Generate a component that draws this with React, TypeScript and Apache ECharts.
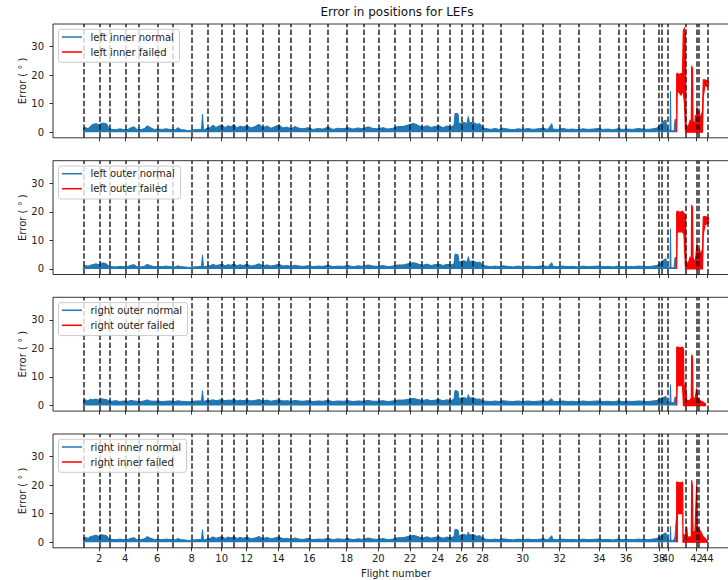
import React, { useEffect, useRef } from "react";
import * as echarts from "echarts";

// x unit: sample index (scaled), y unit: degrees of error
const flightStarts = [
  30.3, 46.3, 56.3, 72.3, 85.3, 104.3, 119.7, 138.7, 154.3, 168.7,
  181, 193.7, 209.3, 225.3, 237.7, 256.3, 274.3, 293.7, 310.3, 325.3,
  341.5, 357, 368.7, 384.7, 397, 408.7, 419.7, 429.5, 447.7, 469.7,
  489.5, 506.5, 526.2, 546.3, 565.5, 573, 590.3, 606, 608.5, 615,
  633, 643.5, 645.5, 654.3,
];

const blueX = [
  30.3, 30.5, 33, 35, 37, 40, 43, 46, 48, 51,
  54, 56, 59, 63, 67, 71, 75, 78, 81, 84,
  88, 92, 94, 97, 101, 105, 109, 113, 117, 122,
  125, 128, 132, 136, 140, 144, 148.5, 149.5, 150.5, 153,
  157, 160, 163, 166, 169, 172, 175, 178, 181, 184,
  187, 190, 194, 198, 202, 206, 210, 214, 218, 222,
  226, 230, 234, 238, 242, 246, 250, 255, 260, 265,
  270, 275, 280, 285, 290, 295, 300, 305, 310, 315,
  320, 325, 330, 335, 340, 345, 350, 355, 360, 363,
  366, 370, 374, 378, 382, 386, 390, 394, 398, 401,
  402, 405, 406, 408, 411, 414, 415.3, 416.5, 420, 424,
  427, 430, 434, 438, 442, 446, 450, 455, 460, 465,
  470, 475, 480, 485, 490, 495, 498.7, 500, 505, 510,
  515, 520, 525, 530, 535, 540, 545, 550, 555, 560,
  565, 570, 575, 580, 585, 590, 595, 600, 604, 607,
  610, 613, 614, 617, 617.5, 618, 621, 622, 623.7, 625,
];

const leftInnerNormal = [
  0, 1.5, 1.6, 1.2, 2.0, 2.8, 3.0, 2.6, 3.1, 3.2,
  2.8, 1.2, 1.0, 0.9, 1.2, 0.9, 1.0, 1.6, 1.9, 1.0,
  0.9, 1.4, 2.3, 1.7, 1.0, 1.1, 1.0, 1.2, 1.0, 0.8,
  1.6, 0.9, 0.8, 0.5, 0.8, 1.0, 1.0, 6.3, 0.8, 1.2,
  1.6, 2.5, 1.7, 2.2, 2.6, 1.6, 2.3, 1.9, 2.7, 1.5,
  2.2, 1.8, 2.4, 1.5, 2.0, 2.8, 1.6, 2.2, 1.4, 2.0,
  2.5, 1.5, 1.8, 1.2, 2.0, 1.4, 1.2, 1.6, 1.0, 1.3,
  1.1, 1.8, 1.0, 1.4, 1.2, 1.6, 1.1, 1.5, 1.2, 1.9,
  1.3, 1.2, 1.6, 1.1, 1.4, 2.0, 2.0, 2.5, 3.1, 2.8,
  2.2, 1.8, 2.3, 1.7, 2.0, 2.3, 1.6, 2.2, 1.9, 2.4,
  6.6, 6.5, 3.0, 3.2, 3.5, 3.0, 5.5, 3.3, 3.5, 2.8,
  3.0, 1.5, 1.2, 1.0, 1.3, 1.0, 1.4, 1.1, 0.9, 1.2,
  1.0, 1.3, 1.0, 1.2, 1.4, 1.0, 3.0, 1.1, 1.0, 1.3,
  1.0, 1.1, 0.9, 1.2, 1.0, 1.1, 1.3, 1.0, 1.1, 0.9,
  1.2, 1.0, 1.1, 1.0, 1.3, 1.1, 1.0, 1.2, 1.5, 2.5,
  3.8, 4.3, 1.0, 0.5, 14.2, 0.5, 0.5, 4.5, 4.5, null,
];

const leftOuterNormal = [
  0, 1.0, 1.2, 0.9, 1.3, 1.5, 1.8, 1.4, 2.0, 2.1,
  1.6, 0.9, 0.8, 0.7, 0.9, 0.8, 0.9, 1.3, 1.5, 0.8,
  0.7, 1.0, 1.6, 1.2, 0.8, 0.9, 0.8, 1.0, 0.8, 0.7,
  1.1, 0.8, 0.7, 0.5, 0.7, 0.8, 0.9, 4.9, 0.7, 0.9,
  1.1, 1.6, 1.2, 1.4, 1.7, 1.1, 1.5, 1.3, 1.8, 1.1,
  1.5, 1.2, 1.6, 1.0, 1.3, 1.8, 1.1, 1.4, 1.0, 1.3,
  1.6, 1.0, 1.2, 0.9, 1.3, 1.0, 0.9, 1.1, 0.8, 1.0,
  0.9, 1.3, 0.8, 1.0, 0.9, 1.2, 0.8, 1.1, 0.9, 1.4,
  1.0, 0.9, 1.2, 0.8, 1.0, 1.4, 1.4, 1.8, 2.2, 2.0,
  1.6, 1.3, 1.7, 1.2, 1.5, 1.7, 1.2, 1.6, 1.4, 1.8,
  5.2, 5.0, 2.4, 2.6, 2.9, 2.4, 4.3, 2.6, 2.8, 2.2,
  2.4, 1.2, 1.0, 0.8, 1.0, 0.8, 1.1, 0.9, 0.7, 1.0,
  0.8, 1.0, 0.8, 0.9, 1.1, 0.8, 2.2, 0.9, 0.8, 1.0,
  0.8, 0.9, 0.7, 1.0, 0.8, 0.9, 1.0, 0.8, 0.9, 0.7,
  1.0, 0.8, 0.9, 0.8, 1.0, 0.9, 0.8, 1.0, 1.2, 2.0,
  3.0, 3.6, 0.8, 0.4, 14.0, 0.4, 0.4, 4.0, 4.0, null,
];

const rightOuterNormal = [
  0, 1.8, 2.0, 1.6, 2.2, 2.0, 2.3, 1.9, 2.4, 2.2,
  2.0, 1.6, 1.5, 1.7, 1.4, 1.6, 1.5, 1.8, 1.6, 1.5,
  1.4, 1.7, 2.0, 1.6, 1.5, 1.6, 1.4, 1.5, 1.6, 1.4,
  1.7, 1.5, 1.4, 1.3, 1.5, 1.6, 1.6, 5.2, 1.4, 1.7,
  1.8, 2.0, 1.7, 1.9, 2.1, 1.7, 1.9, 1.8, 2.2, 1.6,
  1.9, 1.7, 2.0, 1.6, 1.8, 2.1, 1.6, 1.9, 1.5, 1.8,
  2.0, 1.6, 1.7, 1.5, 1.8, 1.6, 1.5, 1.7, 1.4, 1.6,
  1.5, 1.8, 1.4, 1.6, 1.5, 1.7, 1.4, 1.6, 1.5, 1.8,
  1.5, 1.5, 1.7, 1.4, 1.6, 1.9, 1.9, 2.1, 2.5, 2.3,
  2.0, 1.8, 2.1, 1.7, 1.9, 2.1, 1.7, 2.0, 1.8, 2.2,
  5.3, 5.0, 2.4, 2.6, 2.8, 2.4, 3.8, 2.6, 2.7, 2.2,
  2.3, 1.6, 1.5, 1.4, 1.6, 1.4, 1.7, 1.5, 1.4, 1.6,
  1.4, 1.6, 1.4, 1.5, 1.7, 1.4, 2.4, 1.5, 1.4, 1.6,
  1.4, 1.5, 1.3, 1.6, 1.4, 1.5, 1.6, 1.4, 1.5, 1.3,
  1.6, 1.4, 1.5, 1.4, 1.6, 1.5, 1.4, 1.6, 1.8, 2.4,
  2.8, 3.2, 1.4, 1.0, 7.3, 1.0, 1.0, 3.0, 3.0, null,
];

const rightInnerNormal = [
  0, 1.5, 1.7, 1.3, 1.9, 2.2, 2.5, 2.0, 2.6, 2.5,
  2.2, 1.1, 1.0, 0.9, 1.1, 0.9, 1.0, 1.4, 1.6, 0.9,
  0.9, 1.3, 2.0, 1.5, 1.0, 1.0, 0.9, 1.1, 1.0, 0.8,
  1.3, 0.9, 0.8, 0.6, 0.8, 0.9, 1.0, 4.4, 0.8, 1.0,
  1.3, 1.9, 1.4, 1.7, 2.0, 1.3, 1.8, 1.5, 2.0, 1.3,
  1.7, 1.4, 1.8, 1.2, 1.5, 2.0, 1.3, 1.7, 1.2, 1.5,
  1.9, 1.2, 1.4, 1.0, 1.5, 1.1, 1.0, 1.3, 0.9, 1.1,
  1.0, 1.4, 0.9, 1.2, 1.0, 1.3, 0.9, 1.2, 1.0, 1.5,
  1.1, 1.0, 1.3, 0.9, 1.1, 1.6, 1.6, 2.0, 2.4, 2.2,
  1.8, 1.5, 1.9, 1.4, 1.7, 1.9, 1.4, 1.8, 1.6, 2.0,
  4.5, 4.3, 2.2, 2.5, 2.8, 2.3, 3.6, 2.5, 2.7, 2.1,
  2.3, 1.3, 1.0, 0.9, 1.1, 0.9, 1.2, 1.0, 0.8, 1.1,
  0.9, 1.1, 0.9, 1.0, 1.2, 0.9, 2.3, 1.0, 0.9, 1.1,
  0.9, 1.0, 0.8, 1.1, 0.9, 1.0, 1.1, 0.9, 1.0, 0.8,
  1.1, 0.9, 1.0, 0.9, 1.1, 1.0, 0.9, 1.1, 1.3, 2.0,
  2.8, 3.3, 0.9, 0.5, 5.5, 0.5, 0.8, 2.0, 10.0, 10.0,
];

// failed segments: [x, lower envelope, upper envelope]
const leftInnerFailed = [
  [623.7, 0, 20.4], [624.2, 14, 20.6], [626, 14, 20.2], [628, 13, 20.6],
  [629.5, 14, 20.0], [630.3, 14, 35.6], [631.5, 10, 36.3], [632.5, 0, 33.5],
  [633, 0, 3], [635, 0, 1.5], [637, 0, 4], [638.3, 0, 3], [638.7, 0, 22.9],
  [639.5, 0, 22.5], [640, 0, 4], [641.5, 0, 2], [642.5, 0, 6], [643, 0, 2.5],
  [644, 0, 9], [645, 0, 3], [646, 0, 7.5], [647, 0, 4], [648, 0, 6],
  [649.5, 0, 7.2], [650.3, 12.5, 18.3], [652, 16.5, 18.3], [654, 16, 18],
  [655.3, 16.5, 17.7],
];
const leftOuterFailed = [
  [623.7, 0, 19.9], [624.2, 13, 20.2], [627, 13, 19.8], [629.5, 13, 20.2],
  [631, 12, 19.5], [632.5, 0, 18.8], [633, 0, 3], [635, 0, 1.5], [637, 0, 4],
  [638.3, 0, 3], [638.7, 0, 22.4], [639.5, 0, 21.5], [640, 0, 4], [642, 0, 2],
  [643, 0, 5], [644, 0, 9], [645, 0, 3], [646, 0, 7], [648, 0, 5],
  [649.5, 0, 7], [650.3, 12, 18.2], [652, 15.5, 18.4], [655.3, 16, 17.8],
];
const rightOuterFailed = [
  [623.7, 0, 20.3], [624.2, 7, 20.5], [627, 7, 20.2], [629.5, 7, 20.4],
  [630.5, 0, 19.8], [631, 0, 2], [632.5, 0, 8], [633.5, 0, 2], [636, 0, 1.5],
  [638.3, 0, 2.5], [638.7, 0, 17.8], [639.5, 0, 17], [640, 0, 3], [642, 0, 2],
  [643.7, 0, 6], [644.5, 0, 3], [646, 0, 2], [648, 0, 1.5], [650, 0, 1.2],
  [652.5, 0, 0.5],
];
const rightInnerFailed = [
  [623.7, 0, 21.1], [624.2, 10, 21.1], [627, 10, 20.8], [629.7, 10, 21],
  [630, 0, 3], [632, 0, 2], [633.7, 0, 5.4], [634.5, 0, 2], [636, 0, 1.7],
  [638.3, 0, 2], [638.7, 0, 21.7], [639.3, 0, 20], [640, 0, 3], [642, 0, 4],
  [643.7, 0, 20.3], [644.3, 0, 5.4], [646, 0, 4.5], [648, 0, 3.6], [650, 0, 2],
  [654.3, 0, 0.5],
];

const panelNames = ["left inner", "left outer", "right outer", "right inner"];
const normalSeries = [leftInnerNormal, leftOuterNormal, rightOuterNormal, rightInnerNormal];
const failedSeries = [leftInnerFailed, leftOuterFailed, rightOuterFailed, rightInnerFailed];
const yTicks = [0, 10, 20, 30];

const TITLE = "Error in positions for LEFs";
const X_LABEL = "Flight number";
const Y_LABEL = "Error ( ° )";

const BLUE = "#1f77b4";
const RED = "#ff0000";
const FONT = "DejaVu Sans";
const X_MAX = 688;
const Y_MIN = -1.95;
const Y_MAX = 37.9;
const GRID_LEFT = 53;
const GRID_W = 688;
const GRID_TOPS = [24, 160.7, 297.3, 434];
const GRID_H = 113.8;
const LEGEND_W = [121, 122, 129, 128];

export default function App() {
  const ref = useRef<HTMLDivElement>(null);

  useEffect(() => {
    if (!ref.current) return;
    const chart = echarts.init(ref.current, undefined, { renderer: "svg" });
    const evenTicks = flightStarts.filter((_, k) => (k + 1) % 2 === 0);
    // an empty trailing label at the axis end keeps ECharts from dropping "42"/"44"
    const labelValues = evenTicks.concat([X_MAX]);

    const grids = GRID_TOPS.map((top) => ({
      left: GRID_LEFT,
      width: GRID_W,
      top,
      height: GRID_H,
      outerBoundsMode: "none",
      containLabel: false,
      show: true,
      borderColor: "#000",
      borderWidth: 0.8,
      backgroundColor: "transparent",
    }));

    const xAxes = GRID_TOPS.map((_, i) => ({
      type: "value",
      gridIndex: i,
      min: 0,
      max: X_MAX,
      splitLine: { show: false },
      axisLine: { show: false, onZero: false },
      axisTick: {
        show: true,
        customValues: evenTicks,
        length: 3.5,
        lineStyle: { color: "#000", width: 0.8 },
      },
      axisLabel: {
        show: i === 3,
        customValues: labelValues,
        fontSize: 10,
        color: "#222",
        fontFamily: FONT,
        margin: 6,
        hideOverlap: false,
        formatter: (v: number) => {
          if (v >= X_MAX) return "";
          let best = 0;
          for (let k = 0; k < flightStarts.length; k++) {
            if (Math.abs(flightStarts[k] - v) < Math.abs(flightStarts[best] - v)) best = k;
          }
          return String(best + 1);
        },
      },
    }));

    const yAxes = GRID_TOPS.map((_, i) => ({
      type: "value",
      gridIndex: i,
      min: Y_MIN,
      max: Y_MAX,
      name: Y_LABEL,
      nameLocation: "middle",
      nameGap: 26,
      nameMoveOverlap: false,
      nameTextStyle: { fontSize: 10, color: "#222", fontFamily: FONT },
      splitLine: { show: false },
      axisLine: { show: false, onZero: false },
      axisTick: {
        show: true,
        customValues: yTicks,
        length: 3.5,
        lineStyle: { color: "#000", width: 0.8 },
      },
      axisLabel: {
        customValues: yTicks,
        fontSize: 10,
        color: "#222",
        fontFamily: FONT,
        margin: 9,
        showMinLabel: true,
        showMaxLabel: true,
      },
    }));

    const series: any[] = [];
    GRID_TOPS.forEach((_, i) => {
      const vals = normalSeries[i];
      const failed = failedSeries[i];
      series.push({
        type: "line",
        name: panelNames[i] + " normal",
        xAxisIndex: i,
        yAxisIndex: i,
        data: blueX.map((x, k) => [x, vals[k] === undefined ? null : vals[k]]),
        showSymbol: false,
        symbol: "none",
        connectNulls: false,
        lineStyle: { color: BLUE, width: 1 },
        areaStyle: { color: BLUE, opacity: 1 },
        z: 2,
        markLine: {
          silent: true,
          symbol: ["none", "none"],
          label: { show: false },
          lineStyle: { color: "#111", type: [5.5, 2.4], width: 1.5, opacity: 0.9 },
          data: flightStarts.map((x) => ({ xAxis: x })),
          z: 5,
        },
      });
      series.push({
        type: "custom",
        name: panelNames[i] + " failed",
        xAxisIndex: i,
        yAxisIndex: i,
        coordinateSystem: "cartesian2d",
        data: failed.map((p) => [p[0], p[1], p[2]]),
        encode: { x: 0, y: [1, 2] },
        z: 3,
        renderItem: (params: any, api: any) => {
          if (params.dataIndex !== 0) return null;
          const up = failed.map((p) => api.coord([p[0], p[2]]));
          const lo = failed
            .slice()
            .reverse()
            .map((p) => api.coord([p[0], p[1]]));
          return {
            type: "polygon",
            shape: { points: up.concat(lo) },
            style: { fill: RED, stroke: RED, lineWidth: 1.2 },
          };
        },
      });
    });

    const graphics: any[] = [
      {
        type: "text",
        x: 397,
        y: 12,
        z: 20,
        style: {
          text: TITLE,
          font: `12px "${FONT}"`,
          fill: "#111",
          align: "center",
          verticalAlign: "middle",
        },
      },
      {
        type: "text",
        x: 396,
        y: 573,
        z: 20,
        style: {
          text: X_LABEL,
          font: `10px "${FONT}"`,
          fill: "#222",
          align: "center",
          verticalAlign: "middle",
        },
      },
    ];
    GRID_TOPS.forEach((top, i) => {
      graphics.push(
        {
          type: "rect",
          z: 20,
          shape: { x: 58.5, y: top + 5.3, width: LEGEND_W[i], height: 33, r: 2.5 },
          style: { fill: "rgba(255,255,255,0.8)", stroke: "#cccccc", lineWidth: 1 },
        },
        {
          type: "line",
          z: 21,
          shape: { x1: 62, y1: top + 13, x2: 82, y2: top + 13 },
          style: { stroke: BLUE, lineWidth: 1.5 },
        },
        {
          type: "text",
          z: 21,
          x: 90.5,
          y: top + 13,
          style: {
            text: panelNames[i] + " normal",
            font: `10px "${FONT}"`,
            fill: "#222",
            verticalAlign: "middle",
          },
        },
        {
          type: "line",
          z: 21,
          shape: { x1: 62, y1: top + 28, x2: 82, y2: top + 28 },
          style: { stroke: RED, lineWidth: 1.5 },
        },
        {
          type: "text",
          z: 21,
          x: 90.5,
          y: top + 28,
          style: {
            text: panelNames[i] + " failed",
            font: `10px "${FONT}"`,
            fill: "#222",
            verticalAlign: "middle",
          },
        }
      );
    });

    chart.setOption({
      animation: false,
      textStyle: { fontFamily: FONT },
      grid: grids,
      xAxis: xAxes,
      yAxis: yAxes,
      series,
      graphic: { elements: graphics },
    });

    return () => chart.dispose();
  }, []);

  return (
    <div
      ref={ref}
      style={{ position: "absolute", left: 0, top: 0, width: 728, height: 580, background: "#fff" }}
    />
  );
}
